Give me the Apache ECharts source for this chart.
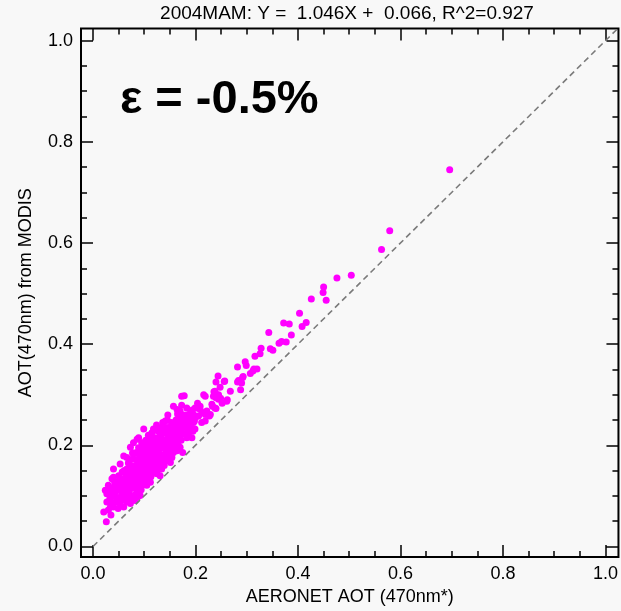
<!DOCTYPE html>
<html>
<head>
<meta charset="utf-8">
<script src="https://cdn.jsdelivr.net/npm/echarts@6/dist/echarts.min.js"></script>
<style>html,body{margin:0;padding:0;background:#f8f8f8;}#c{width:621px;height:611px;}</style>
</head>
<body>
<div id="c"></div>
<script>
const titleText = '2004MAM: Y =  1.046X +  0.066, R^2=0.927';
const epsilonText = 'ε = -0.5%';
const xAxisName = 'AERONET AOT (470nm*)';
const yAxisName = 'AOT(470nm) from MODIS';
const majorTicks = [0, 0.2, 0.4, 0.6, 0.8, 1.0];
const minorTicks = [0.05, 0.1, 0.15, 0.25, 0.3, 0.35, 0.45, 0.5, 0.55, 0.65, 0.7, 0.75, 0.85, 0.9, 0.95];
const oneToOne = [[0, 0], [1.03, 1.03]];
const scatterPoints = [
[0.021,0.068],[0.026,0.049],[0.024,0.111],[0.027,0.088],[0.030,0.072],[0.027,0.104],[0.030,0.121],[0.034,0.078],[0.037,0.101],[0.037,0.134],[0.040,0.153],[0.040,0.137],[0.040,0.117],[0.040,0.078],[0.033,0.095],[0.035,0.062],[0.038,0.085],[0.032,0.110],
[0.043,0.107],[0.047,0.095],[0.047,0.127],[0.050,0.140],[0.053,0.163],[0.053,0.114],[0.053,0.085],[0.045,0.088],[0.049,0.075],[0.055,0.100],[0.057,0.147],[0.058,0.122],[0.052,0.132],[0.056,0.092],[0.044,0.098],[0.059,0.110],[0.048,0.118],
[0.060,0.179],[0.060,0.134],[0.060,0.104],[0.060,0.078],[0.066,0.176],[0.066,0.153],[0.066,0.127],[0.066,0.088],[0.073,0.196],[0.073,0.160],[0.073,0.140],[0.073,0.114],[0.073,0.085],[0.079,0.205],[0.079,0.173],[0.079,0.140],[0.079,0.101],[0.063,0.118],[0.064,0.142],[0.068,0.098],[0.069,0.165],[0.070,0.108],[0.071,0.130],[0.075,0.150],[0.076,0.122],[0.077,0.185],[0.078,0.095],[0.062,0.095],[0.067,0.112],[0.074,0.172],[0.076,0.135],[0.071,0.145],
[0.082,0.091],[0.086,0.212],[0.086,0.186],[0.086,0.147],[0.086,0.127],[0.092,0.179],[0.092,0.153],[0.092,0.101],[0.099,0.232],[0.099,0.199],[0.099,0.186],[0.099,0.160],[0.099,0.140],[0.081,0.115],[0.083,0.160],[0.084,0.135],[0.085,0.105],[0.087,0.170],[0.088,0.118],[0.089,0.195],[0.090,0.140],[0.091,0.128],[0.093,0.165],[0.094,0.112],[0.095,0.205],[0.096,0.150],[0.097,0.122],[0.098,0.175],[0.089,0.215],[0.094,0.190],[0.082,0.148],[0.096,0.132],[0.088,0.155],
[0.105,0.193],[0.105,0.166],[0.105,0.140],[0.105,0.121],[0.112,0.212],[0.112,0.173],[0.112,0.153],[0.112,0.127],[0.118,0.232],[0.118,0.205],[0.118,0.179],[0.118,0.153],[0.101,0.150],[0.102,0.178],[0.103,0.210],[0.104,0.130],[0.106,0.155],[0.107,0.185],[0.108,0.220],[0.109,0.145],[0.110,0.198],[0.111,0.163],[0.113,0.138],[0.114,0.190],[0.115,0.225],[0.116,0.168],[0.117,0.145],[0.119,0.195],[0.115,0.212],[0.108,0.172],[0.103,0.198],
[0.125,0.186],[0.125,0.166],[0.125,0.144],[0.131,0.219],[0.131,0.193],[0.131,0.166],[0.131,0.140],[0.134,0.235],[0.134,0.153],[0.138,0.205],[0.138,0.179],[0.121,0.215],[0.122,0.160],[0.123,0.198],[0.124,0.240],[0.126,0.175],[0.127,0.228],[0.128,0.153],[0.129,0.208],[0.132,0.182],[0.133,0.158],[0.135,0.195],[0.136,0.170],[0.137,0.225],[0.139,0.160],[0.128,0.190],[0.121,0.172],[0.136,0.245],
[0.141,0.248],[0.144,0.225],[0.144,0.199],[0.144,0.179],[0.145,0.250],[0.151,0.212],[0.151,0.193],[0.154,0.176],[0.157,0.232],[0.157,0.205],[0.157,0.186],[0.157,0.277],[0.142,0.185],[0.143,0.212],[0.146,0.170],[0.147,0.235],[0.148,0.190],[0.149,0.205],[0.150,0.222],[0.152,0.180],[0.153,0.245],[0.155,0.198],[0.156,0.215],[0.159,0.240],[0.151,0.166],[0.146,0.260],
[0.164,0.271],[0.164,0.219],[0.164,0.189],[0.170,0.268],[0.170,0.245],[0.170,0.225],[0.170,0.196],[0.173,0.297],[0.178,0.298],[0.173,0.279],[0.161,0.200],[0.162,0.250],[0.163,0.235],[0.166,0.207],[0.167,0.228],[0.168,0.255],[0.172,0.210],[0.174,0.238],[0.175,0.186],[0.176,0.260],[0.177,0.222],[0.179,0.250],[0.165,0.262],
[0.180,0.251],[0.183,0.274],[0.183,0.245],[0.183,0.215],[0.186,0.228],[0.190,0.264],[0.193,0.215],[0.196,0.245],[0.199,0.274],[0.199,0.232],[0.181,0.236],[0.185,0.258],[0.188,0.240],[0.192,0.250],[0.195,0.228],[0.197,0.260],
[0.200,0.255],[0.203,0.274],[0.204,0.283],[0.206,0.258],[0.209,0.271],[0.209,0.277],[0.216,0.300],[0.219,0.297],[0.219,0.261],[0.219,0.248],[0.222,0.268],[0.212,0.245],[0.214,0.265],
[0.227,0.258],[0.229,0.261],[0.232,0.281],[0.233,0.277],[0.235,0.297],[0.236,0.306],[0.238,0.307],[0.238,0.274],[0.240,0.294],[0.240,0.273],[0.240,0.325],[0.244,0.337],[0.245,0.300],[0.245,0.291],[0.248,0.315],[0.249,0.293],[0.252,0.283],[0.256,0.326],[0.257,0.327],[0.261,0.287],[0.262,0.290],
[0.268,0.307],[0.282,0.325],[0.282,0.355],[0.284,0.328],[0.288,0.310],[0.290,0.323],[0.292,0.334],[0.293,0.336],[0.297,0.365],[0.299,0.358],
[0.307,0.342],[0.312,0.347],[0.314,0.351],[0.316,0.376],[0.320,0.351],[0.326,0.381],[0.328,0.392],[0.343,0.423],[0.346,0.391],[0.351,0.388],[0.363,0.402],[0.368,0.405],[0.372,0.442],[0.377,0.404],[0.383,0.440],[0.387,0.418],[0.403,0.461],[0.408,0.435],[0.416,0.443],[0.426,0.489],[0.449,0.502],[0.450,0.513],[0.455,0.487],[0.476,0.531],[0.504,0.536],[0.563,0.587],[0.579,0.624],[0.696,0.745],
[0.035,0.105],[0.042,0.128],[0.046,0.110],[0.050,0.095],[0.054,0.125],[0.057,0.108],[0.061,0.150],[0.062,0.128],[0.065,0.100],[0.068,0.140],[0.070,0.118],[0.072,0.152],[0.074,0.098],[0.077,0.128],[0.080,0.155],[0.081,0.185],[0.083,0.123],[0.085,0.172],[0.087,0.098],[0.090,0.160],[0.091,0.185],[0.093,0.120],[0.095,0.145],[0.097,0.168],[0.100,0.125],[0.102,0.160],[0.104,0.185],[0.106,0.135],[0.109,0.158],[0.110,0.205],[0.113,0.180],[0.114,0.148],[0.117,0.160],[0.120,0.185],[0.122,0.205],[0.124,0.150],[0.127,0.165],[0.130,0.200],[0.133,0.215],[0.135,0.165],[0.140,0.195],[0.142,0.235],[0.145,0.188],[0.148,0.215],[0.150,0.178],[0.153,0.228],[0.158,0.195],[0.160,0.220],[0.163,0.205],[0.166,0.245],[0.169,0.215],[0.172,0.230],[0.178,0.235],[0.182,0.260],[0.187,0.225],[0.191,0.238],[0.194,0.270],[0.198,0.248]
];

const FONT = '"Liberation Sans", Arial, sans-serif';
const X_MIN = -0.0234, X_MAX = 1.0253, Y_MIN = -0.021, Y_MAX = 1.024;
const labelStyle = { customValues: majorTicks, fontSize: 18, color: '#000', fontFamily: FONT, margin: 8, formatter: v => v.toFixed(1) };

function ax(pos, isMinor, showLabel, extra) {
  const horizontal = pos === 'bottom' || pos === 'top';
  return Object.assign({
    type: 'value', position: pos, gridIndex: 0,
    min: horizontal ? X_MIN : Y_MIN, max: horizontal ? X_MAX : Y_MAX,
    axisLine: { show: false, onZero: false },
    axisTick: { show: true, inside: true, length: isMinor ? 6 : 12, customValues: isMinor ? minorTicks : majorTicks,
      lineStyle: { color: '#000', width: 1.5 } },
    axisLabel: showLabel ? labelStyle : { show: false },
    splitLine: { show: false }
  }, extra || {});
}

const chart = echarts.init(document.getElementById('c'), null, { renderer: 'canvas' });
chart.setOption({
  backgroundColor: '#f8f8f8',
  animation: false,
  grid: { left: 81, right: 2.5, top: 28.5, bottom: 49, show: true, borderColor: '#000', borderWidth: 2, backgroundColor: 'transparent' },
  xAxis: [
    ax('bottom', false, true, { name: xAxisName, nameLocation: 'middle', nameGap: 28,
      nameTextStyle: { fontSize: 18, color: '#000', fontFamily: FONT } }),
    ax('bottom', true, false),
    ax('top', false, false),
    ax('top', true, false)
  ],
  yAxis: [
    ax('left', false, true, { name: yAxisName, nameLocation: 'middle', nameGap: 46,
      nameTextStyle: { fontSize: 18, color: '#000', fontFamily: FONT } }),
    ax('left', true, false),
    ax('right', false, false),
    ax('right', true, false)
  ],
  graphic: [
    { type: 'text', x: 347, y: 14, style: { text: titleText, font: '19px ' + FONT, fill: '#000', textAlign: 'center', verticalAlign: 'middle' } },
    { type: 'text', x: 120, y: 100, style: { text: epsilonText, font: 'bold 47px ' + FONT, fill: '#000', verticalAlign: 'middle' } }
  ],
  series: [
    { type: 'line', xAxisIndex: 0, yAxisIndex: 0, data: oneToOne, clip: true, symbol: 'none',
      lineStyle: { color: '#7a7a7a', width: 1.6, type: [6, 4] }, silent: true },
    { type: 'scatter', xAxisIndex: 0, yAxisIndex: 0, data: scatterPoints, symbolSize: 7,
      itemStyle: { color: '#ff00ff', opacity: 1 } }
  ]
});
</script>
</body>
</html>
